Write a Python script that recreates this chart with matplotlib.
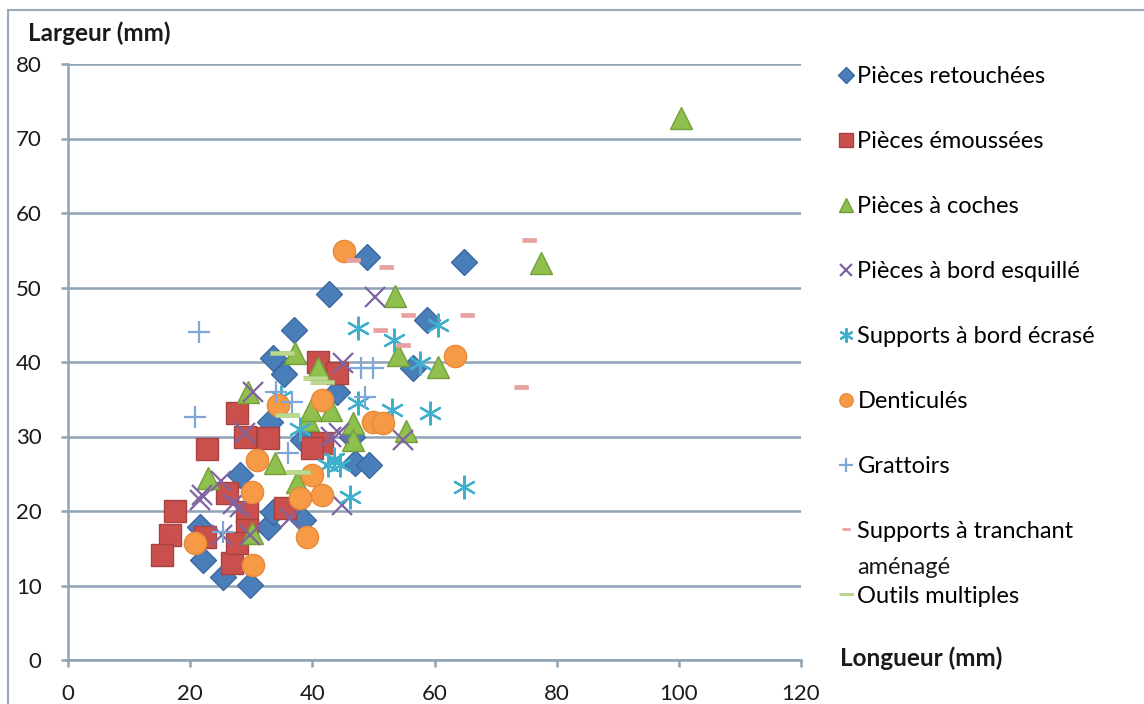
import numpy as np
import matplotlib.pyplot as plt
from matplotlib.patches import Rectangle

plt.rcParams['font.family'] = ['Lato', 'DejaVu Sans']

# Pièces retouchées
retouchees_x = [64.9, 48.9, 42.8, 37.0, 58.7, 56.4, 33.6, 35.4, 33.1, 39.3, 47.0, 49.2,
                22.1, 25.4, 29.8, 32.8, 33.6, 38.5, 38.5, 21.6, 28.2, 44.0, 46.5]
retouchees_y = [53.4, 54.1, 49.1, 44.3, 45.6, 39.2, 40.5, 38.4, 31.9, 29.1, 26.4, 26.2,
                13.4, 11.1, 10.1, 17.9, 19.9, 29.5, 18.8, 17.9, 24.8, 36.0, 30.0]
# Pièces émoussées
emoussees_x = [41.0, 44.1, 22.8, 27.7, 29.0, 32.8, 41.6, 17.5, 16.7, 15.4, 22.5, 26.0,
               29.3, 29.3, 26.9, 35.6, 27.7, 40.0]
emoussees_y = [40.0, 38.5, 28.3, 33.2, 30.0, 29.8, 29.1, 20.0, 16.8, 14.1, 16.5, 22.4,
               19.9, 17.4, 13.0, 20.4, 15.7, 28.5]
# Pièces à coches
coches_x = [100.3, 77.4, 53.6, 60.5, 54.1, 55.4, 37.2, 41.0, 29.5, 39.3, 46.6, 46.7,
            33.9, 23.0, 37.5, 30.2, 39.7, 43.0]
coches_y = [72.8, 53.3, 48.9, 39.3, 40.9, 30.7, 41.2, 39.2, 36.0, 32.2, 31.8, 29.5,
            26.4, 24.4, 23.9, 17.0, 33.6, 33.5]
# Pièces à bord esquillé
esquille_x = [50.3, 45.1, 54.9, 44.3, 44.9, 30.3, 29.0, 43.0, 21.6, 27.0, 22.0, 25.0,
              28.2, 25.2, 29.8, 36.4]
esquille_y = [48.7, 39.9, 29.5, 30.5, 20.8, 36.0, 30.5, 30.0, 21.5, 21.0, 22.1, 24.0,
              20.5, 16.8, 16.8, 19.1]
# Supports à bord écrasé
ecrase_x = [64.8, 59.3, 53.1, 47.4, 53.3, 60.5, 57.7, 47.4, 46.2, 44.6, 42.5, 43.5, 34.8, 38.0]
ecrase_y = [23.2, 33.2, 33.6, 44.6, 43.0, 45.0, 39.9, 34.5, 21.9, 26.2, 26.2, 27.0, 35.3, 31.0]
# Denticulés
denticules_x = [45.2, 63.3, 50.0, 51.5, 41.6, 34.3, 31.0, 30.2, 40.0, 38.0, 41.6, 20.8, 30.3, 39.2]
denticules_y = [54.9, 40.8, 31.9, 31.8, 34.9, 34.2, 26.8, 22.5, 24.8, 21.7, 22.1, 15.7, 12.8, 16.5]
# Grattoirs
grattoirs_x = [21.5, 20.8, 50.0, 47.9, 48.7, 36.7, 36.0, 25.4, 34.0]
grattoirs_y = [44.0, 32.6, 39.2, 39.2, 35.3, 34.6, 27.8, 17.2, 36.0]
# Supports à tranchant aménagé
tranchant_x = [75.4, 46.6, 52.0, 55.7, 65.4, 51.1, 54.8, 74.1]
tranchant_y = [56.4, 53.7, 52.8, 46.3, 46.3, 44.3, 42.3, 36.6]
# Outils multiples
outils_x = [35.0, 41.6, 35.9, 37.7, 40.5]
outils_y = [41.2, 37.3, 32.9, 25.2, 37.8]

small_bar = [(-1, -0.35), (1, -0.35), (1, 0.35), (-1, 0.35)]
long_bar = [(-1, -0.2), (1, -0.2), (1, 0.2), (-1, 0.2)]

series = [
    ("Pièces retouchées", retouchees_x, retouchees_y, dict(marker='D', ms=13, mfc='#4a7ebb', mec='#3b68a0', mew=1)),
    ("Pièces émoussées", emoussees_x, emoussees_y, dict(marker='s', ms=16, mfc='#c9504d', mec='#a84240', mew=1)),
    ("Pièces à coches", coches_x, coches_y, dict(marker='^', ms=16, mfc='#8fbf4d', mec='#74a03a', mew=1)),
    ("Pièces à bord esquillé", esquille_x, esquille_y, dict(marker='x', ms=15, mec='#8064a2', mew=1.6)),
    ("Supports à bord écrasé", ecrase_x, ecrase_y, dict(marker=(6, 2, 0), ms=17, mec='#3fb0cc', mew=1.6)),
    ("Denticulés", denticules_x, denticules_y, dict(marker='o', ms=16, mfc='#f79a45', mec='#e8883a', mew=1)),
    ("Grattoirs", grattoirs_x, grattoirs_y, dict(marker='+', ms=16, mec='#7ea7d8', mew=1.6)),
    ("Supports à tranchant", tranchant_x, tranchant_y, dict(marker=small_bar, ms=10, mfc='#e7a2a0', mec='#e7a2a0', mew=0.5)),
    ("Outils multiples", outils_x, outils_y, dict(marker=long_bar, ms=17, mfc='#bcd98f', mec='#aacb7a', mew=0.5)),
]

fig = plt.figure(figsize=(11.44, 7.04), dpi=100)
ax = fig.add_axes([68 / 1144, 1 - 660 / 704, (801 - 68) / 1144, (660 - 64) / 704])

grid_col = '#8ea3b6'
for label, xs, ys, st in series:
    ax.plot(xs, ys, linestyle='none', label=label, **st)

ax.set_xlim(0, 120)
ax.set_ylim(0, 80)
ax.set_xticks(range(0, 121, 20))
ax.set_yticks(range(0, 81, 10))
ax.yaxis.grid(True, color=grid_col, lw=1.8)
ax.set_axisbelow(True)
for s in ['top', 'right']:
    ax.spines[s].set_visible(False)
for s in ['left', 'bottom']:
    ax.spines[s].set_color(grid_col)
    ax.spines[s].set_linewidth(1.8)
ax.tick_params(axis='both', colors=grid_col, length=5, width=1.8, labelsize=16,
               labelcolor='#1a1a1a')
ax.tick_params(axis='x', pad=12)
ax.tick_params(axis='y', pad=14)

fig.text(28 / 1144, 1 - 33 / 704, "Largeur (mm)", fontsize=17.5, fontweight='bold',
         va='center', ha='left', color='#1a1a1a')
fig.text(840 / 1144, 1 - 658 / 704, "Longueur (mm)", fontsize=17.5, fontweight='bold',
         va='center', ha='left', color='#1a1a1a')

leg = ax.legend(loc='upper left', bbox_to_anchor=(1.04, 1.012), frameon=False,
                fontsize=17, labelspacing=1.86, handlelength=0.5, handletextpad=0.25,
                markerscale=0.6, borderaxespad=0)

# second line of the wrapped legend label
fig.canvas.draw()
t = leg.get_texts()[7]
bb = t.get_window_extent()
fig.text(bb.x0 / 1144, (bb.y0 - 36) / 704, "aménagé", fontsize=17,
         va='bottom', ha='left', color='#1a1a1a')

fig.patches.append(Rectangle((8 / 1144, -0.01), 1.2, 1 - 10 / 704 + 0.01,
                             transform=fig.transFigure, fill=False,
                             edgecolor='#9aaabb', lw=1.5))

fig.savefig('out.png', dpi=100)
